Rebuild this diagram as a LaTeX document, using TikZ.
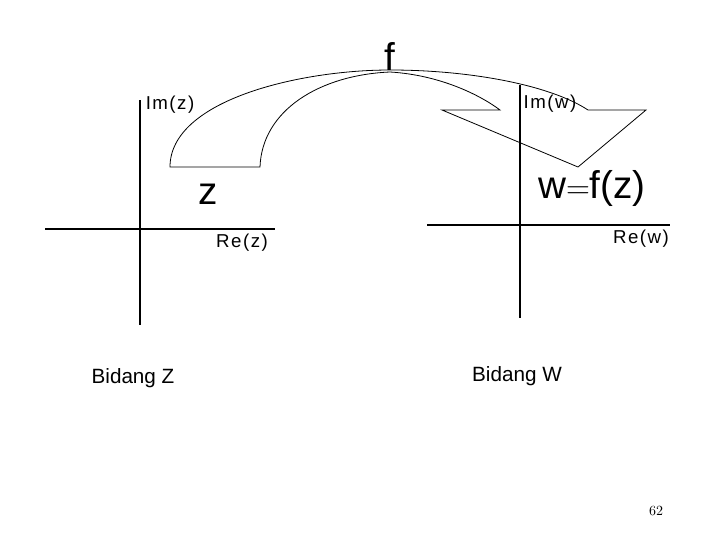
\documentclass[tikz,border=0pt]{standalone}
\usepackage{fontspec}
\setmainfont{Liberation Sans}
\begin{document}
\begin{tikzpicture}[x=0.75pt,y=-0.75pt,ax/.style={line width=0.9pt},lab/.style={inner sep=0pt,font=\fontsize{14}{16}\selectfont\addfontfeature{LetterSpace=8}},big/.style={inner sep=0pt,font=\fontsize{29}{32}\selectfont}]
\useasboundingbox (0,0) rectangle (728,546);
\draw[ax] (45,229) coordinate (zl) -- (275,229) coordinate (zr);
\draw[ax] (140,100) coordinate (zt) -- (140,325) coordinate (zb);
\draw[ax] (427,225) coordinate (wl) -- (670,225) coordinate (wr);
\draw[ax] (520,85) coordinate (wt) -- (520,318) coordinate (wb);
\draw[line width=0.6pt] (170,167) .. controls (170,100) and (300,70) .. (390,70) .. controls (470,70) and (550,85) .. (588,110)
 -- (646,110) -- (578,167) -- (442,110) -- (500,110)
 .. controls (480,95) and (440,75) .. (390,72) .. controls (320,75) and (262,110) .. (260,167) -- cycle;
\node[lab] (imz) at (170,105) {Im(z)};
\node[lab] (rez) at (242,243) {Re(z)};
\node[lab] (imw) at (550,104) {Im(w)};
\node[lab] (rew) at (641,239) {Re(w)};
\node[big] (z) at (208,194) {z};
\node[big] (f) at (390,57) {f};
\node[big] (w) at (592,188) {w$=$f(z)};
\node[inner sep=0pt,font=\fontsize{15.5}{18}\selectfont] (bz) at (133,378) {Bidang Z};
\node[inner sep=0pt,font=\fontsize{15.5}{18}\selectfont] (bw) at (517,376) {Bidang W};
\node[inner sep=0pt,font=\fontfamily{lmr}\selectfont\fontsize{10.5}{12}\selectfont] (pg) at (656,511) {62};
\end{tikzpicture}
\end{document}
